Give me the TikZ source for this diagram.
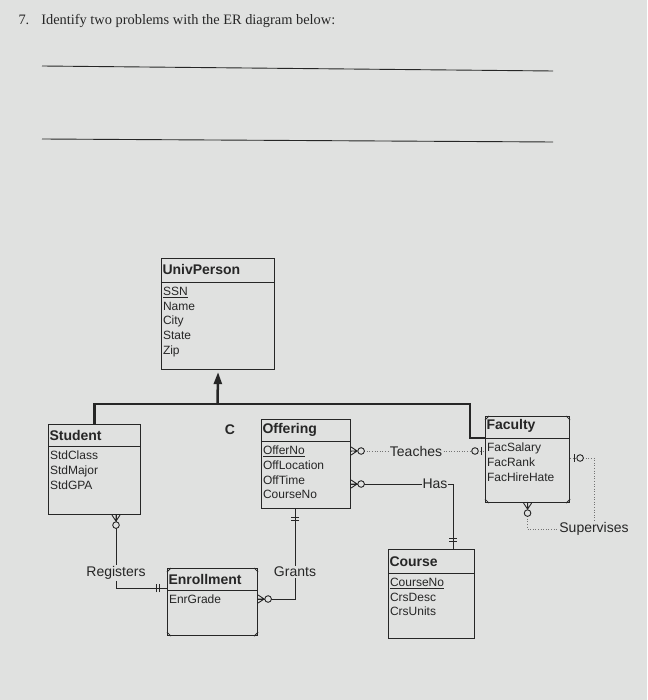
\documentclass[tikz,border=0pt]{standalone}
\usepackage{fontspec}
\setmainfont{Liberation Serif}
\setsansfont{Liberation Sans}
\usetikzlibrary{arrows.meta}
\definecolor{paper}{RGB}{224,225,224}
\definecolor{ink}{RGB}{38,38,38}

\begin{document}
\begin{tikzpicture}[x=1pt,y=-1pt, ink, line width=1pt,
    entity/.style={draw, line width=1.1pt, anchor=north west, inner sep=0pt},
    etitle/.style={anchor=west, inner sep=1pt, font=\sffamily\bfseries\fontsize{14}{16}\selectfont},
    attrs/.style={anchor=north west, align=left, inner xsep=1.5pt, inner ysep=4.5pt, font=\sffamily\fontsize{12}{14.7}\selectfont},
    rel/.style={inner sep=1pt, font=\sffamily\fontsize{14}{16}\selectfont},
    dots/.style={dash pattern=on 1pt off 1.6pt, line width=0.8pt, black!55},
    genbar/.style={line width=2.5pt},
    crowopt/.pic={\draw[line width=0.9pt] (0,-4) -- (6,0) -- (0,4) (0,0) -- (6,0);
      \draw[line width=0.9pt, fill=paper] (10,0) circle (3.3);},
    baropt/.pic={\draw[line width=0.9pt] (4,-4) -- (4,4);
      \draw[line width=0.9pt, fill=paper] (10,0) circle (3.3);},
    barbar/.pic={\draw[line width=0.9pt] (8,-4) -- (8,4) (11,-4) -- (11,4);}]
  \fill[paper] (0,0) rectangle (647,700);
  \useasboundingbox (0,0) rectangle (647,700);

  % question and answer lines
  \node[anchor=base west, inner sep=0pt, font=\rmfamily\fontsize{14.4}{17}\selectfont] (quest) at (18,25)
    {7.\hspace{12pt}Identify two problems with the ER diagram below:};
  \draw[line width=0.9pt] (42,66) -- (553,71);
  \draw[line width=0.9pt] (42,139) -- (553,142);

  % entities
  \node[entity, minimum width=113pt, minimum height=111pt] (univ) at (161,258) {};
  \draw (univ.west |- 0,282) -- (univ.east |- 0,282);
  \node[etitle] (univt) at (univ.west |- 0,269) {UnivPerson};
  \node[attrs] (univa) at (univ.west |- 0,282) {\underline{SSN}\\Name\\City\\State\\Zip};

  \node[entity, minimum width=92pt, minimum height=90pt] (stud) at (48,424) {};
  \draw (stud.west |- 0,446) -- (stud.east |- 0,446);
  \node[etitle] (studt) at (stud.west |- 0,435) {Student};
  \node[attrs] (studa) at (stud.west |- 0,446) {StdClass\\StdMajor\\StdGPA};

  \node[entity, minimum width=89pt, minimum height=89pt] (offer) at (261,419) {};
  \draw (offer.west |- 0,441) -- (offer.east |- 0,441);
  \node[etitle] (offert) at (offer.west |- 0,430) {Offering};
  \node[attrs] (offera) at (offer.west |- 0,441) {\underline{OfferNo}\\OffLocation\\OffTime\\CourseNo};

  \node[entity, minimum width=84pt, minimum height=86pt] (fac) at (485,416) {};
  \draw (fac.west |- 0,438) -- (fac.east |- 0,438);
  \node[etitle] (fact) at (fac.west |- 0,426) {Faculty};
  \node[attrs] (faca) at (fac.west |- 0,438) {FacSalary\\FacRank\\FacHireHate};

  \node[entity, minimum width=90pt, minimum height=67pt] (enr) at (167,568) {};
  \draw (enr.west |- 0,590) -- (enr.east |- 0,590);
  \node[etitle] (enrt) at (enr.west |- 0,579) {Enrollment};
  \node[attrs] (enra) at (enr.west |- 0,590) {EnrGrade};

  \node[entity, minimum width=86pt, minimum height=89pt] (course) at (388,549) {};
  \draw (course.west |- 0,573) -- (course.east |- 0,573);
  \node[etitle] (courset) at (course.west |- 0,562) {Course};
  \node[attrs] (coursea) at (course.west |- 0,573) {\underline{CourseNo}\\CrsDesc\\CrsUnits};

  % corner marks
  \foreach \e in {fac,enr}{
    \draw[line width=0.8pt] ([yshift=-4pt]\e.north west) -- ([xshift=4pt]\e.north west)
      ([yshift=-4pt]\e.north east) -- ([xshift=-4pt]\e.north east)
      ([yshift=4pt]\e.south west) -- ([xshift=4pt]\e.south west)
      ([yshift=4pt]\e.south east) -- ([xshift=-4pt]\e.south east);
  }

  % generalization
  \coordinate (gen) at (217.5,404);
  \coordinate (genr) at (470,404);
  \node[etitle, anchor=center] (cat) at (230,430) {C};
  \draw[genbar] (stud.north) |- (genr) |- (fac.west |- 0,438);
  \draw[genbar, -{Triangle[width=8pt,length=12pt]}] (gen) -- ([yshift=-2pt]univ.south);

  % relationships
  \node[rel] (teach) at (416,451) {Teaches};
  \node[rel, inner xsep=0pt] (has) at (435,484) {Has};
  \node[rel] (reg) at (116,573) {Registers};
  \node[rel] (grant) at (295,572) {Grants};
  \node[rel] (sup) at (594,529) {Supervises};
  \coordinate (crsin) at (453,549);

  \draw[dots] (offer.east |- teach) -- (teach) -- (fac.west |- teach);
  \draw (offer.east |- has) -- (has.west);
  \draw (has.east) -| (crsin);
  \draw (stud.south -| reg) -- (reg);
  \draw (reg.south) |- (enr.west |- 0,588);
  \draw (offer.south -| grant) -- (grant);
  \draw (grant.south) |- (enr.east |- 0,599);
  \draw[dots] (fac.east |- 0,458) -| (sup.north);
  \draw[dots] (fac.south) |- (sup.west);

  \pic at (offer.east |- teach) {crowopt};
  \pic[rotate=180] at (fac.west |- teach) {baropt};
  \pic at (offer.east |- has) {crowopt};
  \pic[rotate=90] at (crsin) {barbar};
  \pic at (fac.east |- 0,458) {baropt};
  \pic[rotate=-90] at (fac.south) {crowopt};
  \pic[rotate=-90] at (stud.south -| reg) {crowopt};
  \pic[rotate=180] at (enr.west |- 0,588) {barbar};
  \pic[rotate=-90] at (offer.south -| grant) {barbar};
  \pic at (enr.east |- 0,599) {crowopt};
\end{tikzpicture}
\end{document}
